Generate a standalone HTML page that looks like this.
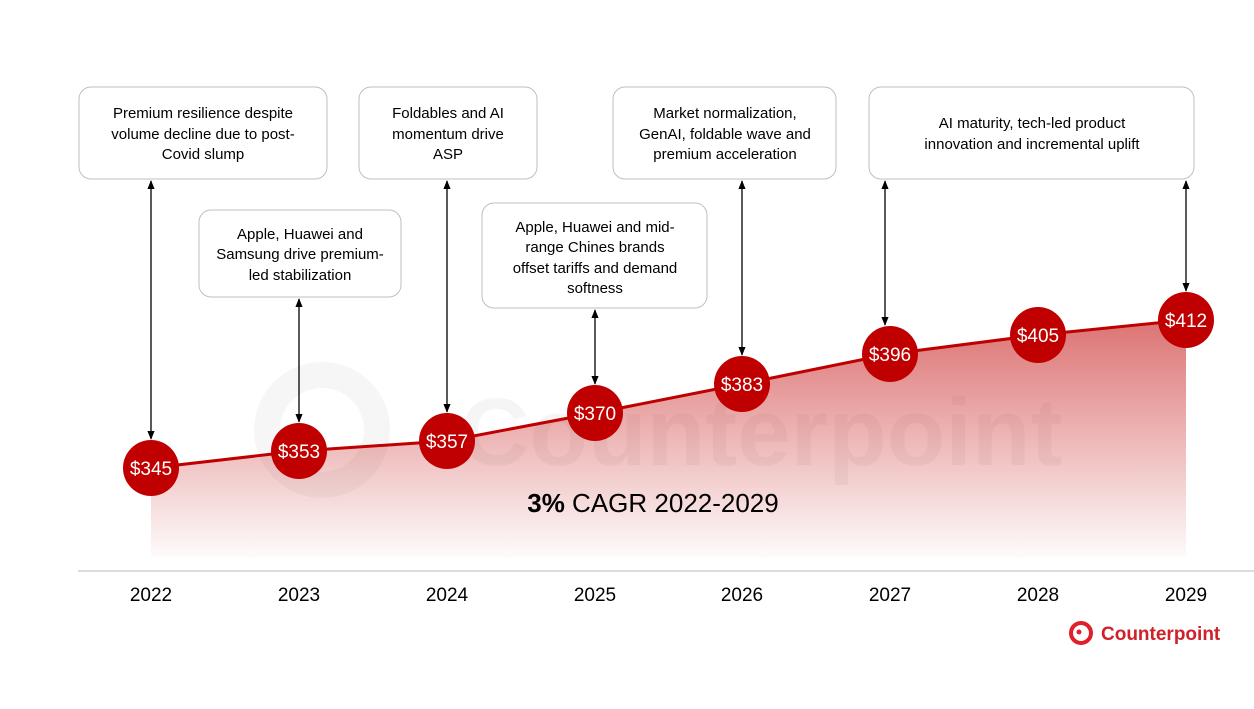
<!DOCTYPE html>
<html><head><meta charset="utf-8"><style>
body{margin:0;background:#fff;}
svg{display:block;font-family:"Liberation Sans",Arial,sans-serif;}
</style></head><body>
<svg width="1254" height="709" viewBox="0 0 1254 709" xmlns="http://www.w3.org/2000/svg">
<defs>
<linearGradient id="g" x1="0" y1="320" x2="0" y2="560" gradientUnits="userSpaceOnUse">
<stop offset="0" stop-color="#c00000" stop-opacity="0.55"/>
<stop offset="1" stop-color="#c00000" stop-opacity="0.01"/>
</linearGradient>
<marker id="a" viewBox="0 0 10 10" refX="9" refY="5" markerWidth="7" markerHeight="7" orient="auto-start-reverse"><path d="M0,1 L10,5 L0,9 z" fill="#000"/></marker>
</defs>
<g opacity="0.035">
<circle cx="322" cy="430" r="55" fill="none" stroke="#000" stroke-width="26"/>
<text x="460" y="465" font-size="96" font-weight="bold" fill="#000">Counterpoint</text>
</g>
<path d="M151,468 L299,451 L447,441 L595,413 L742,384 L890,354 L1038,335 L1186,320 L1186,558 L151,558 Z" fill="url(#g)"/>
<polyline points="151,468 299,451 447,441 595,413 742,384 890,354 1038,335 1186,320" fill="none" stroke="#c00000" stroke-width="3"/>
<line x1="78" y1="571" x2="1254" y2="571" stroke="#d0d0d0" stroke-width="1.5"/>
<g stroke="#000" stroke-width="1.3" marker-start="url(#a)" marker-end="url(#a)">
<line x1="151" y1="181" x2="151" y2="439"/>
<line x1="299" y1="299" x2="299" y2="422"/>
<line x1="447" y1="181" x2="447" y2="412"/>
<line x1="595" y1="310" x2="595" y2="384"/>
<line x1="742" y1="181" x2="742" y2="355"/>
<line x1="885" y1="181" x2="885" y2="325"/>
<line x1="1186" y1="181" x2="1186" y2="291"/>
</g>
<g fill="#fff" stroke="#bfbfbf" stroke-width="1">
<rect x="79" y="87" width="248" height="92" rx="12"/>
<rect x="199" y="210" width="202" height="87" rx="12"/>
<rect x="359" y="87" width="178" height="92" rx="12"/>
<rect x="482" y="203" width="225" height="105" rx="12"/>
<rect x="613" y="87" width="223" height="92" rx="12"/>
<rect x="869" y="87" width="325" height="92" rx="12"/>
</g>
<g font-size="15" fill="#000" text-anchor="middle">
<text x="203" y="118">Premium resilience despite</text>
<text x="203" y="139">volume decline due to post-</text>
<text x="203" y="159">Covid slump</text>
<text x="300" y="239">Apple, Huawei and</text>
<text x="300" y="259">Samsung drive premium-</text>
<text x="300" y="280">led stabilization</text>
<text x="448" y="118">Foldables and AI</text>
<text x="448" y="139">momentum drive</text>
<text x="448" y="159">ASP</text>
<text x="595" y="232">Apple, Huawei and mid-</text>
<text x="595" y="252">range Chines brands</text>
<text x="595" y="273">offset tariffs and demand</text>
<text x="595" y="293">softness</text>
<text x="725" y="118">Market normalization,</text>
<text x="725" y="139">GenAI, foldable wave and</text>
<text x="725" y="159">premium acceleration</text>
<text x="1032" y="128">AI maturity, tech-led product</text>
<text x="1032" y="149">innovation and incremental uplift</text>
</g>
<g fill="#c00000">
<circle cx="151" cy="468" r="28"/><circle cx="299" cy="451" r="28"/><circle cx="447" cy="441" r="28"/><circle cx="595" cy="413" r="28"/><circle cx="742" cy="384" r="28"/><circle cx="890" cy="354" r="28"/><circle cx="1038" cy="335" r="28"/><circle cx="1186" cy="320" r="28"/>
</g>
<g font-size="19" fill="#fff" text-anchor="middle">
<text x="151" y="475">$345</text><text x="299" y="458">$353</text><text x="447" y="448">$357</text><text x="595" y="420">$370</text><text x="742" y="391">$383</text><text x="890" y="361">$396</text><text x="1038" y="342">$405</text><text x="1186" y="327">$412</text>
</g>
<text x="653" y="512" font-size="26" text-anchor="middle" fill="#000"><tspan font-weight="bold">3%</tspan> CAGR 2022-2029</text>
<g font-size="19" fill="#000" text-anchor="middle">
<text x="151" y="601">2022</text><text x="299" y="601">2023</text><text x="447" y="601">2024</text><text x="595" y="601">2025</text><text x="742" y="601">2026</text><text x="890" y="601">2027</text><text x="1038" y="601">2028</text><text x="1186" y="601">2029</text>
</g>
<circle cx="1081" cy="633" r="10" fill="none" stroke="#e0202a" stroke-width="4"/>
<circle cx="1079" cy="632" r="2.5" fill="#e0202a"/>
<text x="1101" y="640" font-size="19" font-weight="bold" fill="#d0202a">Counterpoint</text>
</svg>
</body></html>
